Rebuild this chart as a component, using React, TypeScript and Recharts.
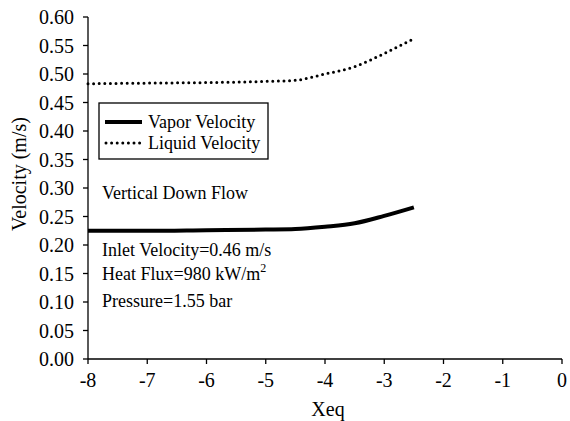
import React from "react"
import { LineChart, Line, XAxis, YAxis } from "recharts"

const xeq = [-8, -7, -6, -5, -4.5, -4, -3.5, -3, -2.5]
const vaporVelocity = [0.225, 0.225, 0.226, 0.227, 0.228, 0.232, 0.238, 0.251, 0.266]
const liquidVelocity = [0.483, 0.484, 0.485, 0.487, 0.489, 0.5, 0.513, 0.536, 0.562]
const xTicks = [-8, -7, -6, -5, -4, -3, -2, -1, 0]
const yTicks = [0, 0.05, 0.1, 0.15, 0.2, 0.25, 0.3, 0.35, 0.4, 0.45, 0.5, 0.55, 0.6]

const data = xeq.map((x, i) => ({ x, vapor: vaporVelocity[i], liquid: liquidVelocity[i] }))

const FONT = "Liberation Serif, Tinos, Times New Roman, Times, serif"
const tickStyle = { fill: "#000", fontSize: 20, fontFamily: FONT }

export default function App() {
  return (
    <div style={{ position: "absolute", left: 0, top: 0, width: 570, height: 421, background: "#fff", fontFamily: FONT }}>
      <LineChart width={570} height={421} data={data} margin={{ top: 17, right: 8, bottom: 32, left: 0 }} style={{ fontFamily: FONT }}>
        <XAxis
          dataKey="x"
          type="number"
          domain={[-8, 0]}
          ticks={xTicks}
          height={30}
          tickSize={5}
          tickMargin={9}
          axisLine={{ stroke: "#000", strokeWidth: 1.3 }}
          tickLine={{ stroke: "#000", strokeWidth: 1.3 }}
          tick={tickStyle}
        />
        <XAxis xAxisId="top" orientation="top" type="number" domain={[-8, 0]} tick={false} tickLine={false} height={0} axisLine={{ stroke: "#000", strokeWidth: 1.3 }} />
        <YAxis
          type="number"
          domain={[0, 0.6]}
          ticks={yTicks}
          width={88}
          tickSize={5}
          tickMargin={9}
          tickFormatter={(v: number) => v.toFixed(2)}
          axisLine={{ stroke: "#000", strokeWidth: 1.3 }}
          tickLine={{ stroke: "#000", strokeWidth: 1.3 }}
          tick={tickStyle}
        />
        <YAxis yAxisId="right" orientation="right" domain={[0, 0.6]} tick={false} tickLine={false} width={0} axisLine={{ stroke: "#000", strokeWidth: 1.3 }} />
        <Line
          type="monotone"
          dataKey="liquid"
          name="Liquid Velocity"
          stroke="#000"
          strokeWidth={3}
          strokeDasharray="0 5.6"
          strokeLinecap="round"
          dot={false}
          isAnimationActive={false}
        />
        <Line type="monotone" dataKey="vapor" name="Vapor Velocity" stroke="#000" strokeWidth={4} dot={false} isAnimationActive={false} />
      </LineChart>
      <svg width={570} height={421} style={{ position: "absolute", left: 0, top: 0, pointerEvents: "none" }}>
        <g fontFamily={FONT} fill="#000">
          {/* axis titles */}
          <text x={328} y={416} fontSize={20} textAnchor="middle">Xeq</text>
          <text transform="translate(26,174) rotate(-90)" fontSize={20} textAnchor="middle">Velocity (m/s)</text>

          {/* legend */}
          <rect x={99} y={103} width={169} height={56} fill="#fff" stroke="#000" strokeWidth={1.3} />
          <line x1={105} x2={142} y1={122} y2={122} stroke="#000" strokeWidth={4} />
          <line x1={106} x2={142} y1={143} y2={143} stroke="#000" strokeWidth={3} strokeDasharray="0 5.6" strokeLinecap="round" />
          <text x={148} y={128} fontSize={18}>Vapor Velocity</text>
          <text x={148} y={149} fontSize={18}>Liquid Velocity</text>

          {/* annotations */}
          <text x={102} y={199} fontSize={18}>Vertical Down Flow</text>
          <text x={102} y={256} fontSize={18}>Inlet Velocity=0.46 m/s</text>
          <text x={102} y={280} fontSize={18}>
            Heat Flux=980 kW/m<tspan dy={-8} fontSize={12}>2</tspan>
          </text>
          <text x={102} y={307} fontSize={18}>Pressure=1.55 bar</text>
        </g>
      </svg>
    </div>
  )
}
